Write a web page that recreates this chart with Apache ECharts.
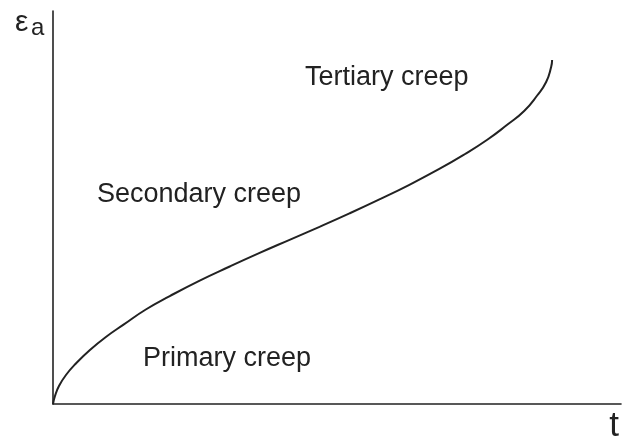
<!DOCTYPE html>
<html>
<head>
<meta charset="utf-8">
<script src="https://cdn.jsdelivr.net/npm/echarts@6/dist/echarts.min.js"></script>
<style>
  html, body { margin: 0; padding: 0; background: #fff; }
  #chart { width: 622px; height: 444px; }
</style>
</head>
<body>
<div id="chart"></div>
<script>
// creep curve: strain vs time (arbitrary units, 0..100 on both axes)
const timeVals   = [0, 0.35, 1.05, 2.28, 4.04, 6.5, 9.31, 12.48, 16.34, 20.56, 25.83, 31.11, 36.38, 41.65, 46.92, 52.2, 57.47, 62.74, 68.01, 72.41, 76.45, 79.96, 82.95, 85.24, 86.82, 87.7, 87.87];
const strainVals = [0, 2.04, 4.58, 7.38, 10.31, 13.74, 17.05, 20.25, 24.05, 27.46, 31.4, 34.99, 38.45, 41.78, 45.09, 48.5, 52.06, 55.78, 59.8, 63.49, 67.23, 71.04, 74.55, 78.5, 81.93, 85.75, 87.53];

const stageLabels = ['Tertiary creep', 'Secondary creep', 'Primary creep'];
const xName = 't';
const yName = ['ε', 'a'];

const font = 'Liberation Sans, Arial, sans-serif';
const ink = '#222';

const curve = timeVals.map((t, i) => [t, strainVals[i]]);

const chart = echarts.init(document.getElementById('chart'));

// text positions (px)
const labelPos = [[305, 64], [97, 181], [143, 345]];
const yNamePos = [[15, 8], [31, 16]];
const yNameSize = [30, 24];

const texts = stageLabels.map((txt, i) => ({
    type: 'text',
    left: labelPos[i][0],
    top: labelPos[i][1],
    style: { text: txt, font: '27px ' + font, fill: ink }
})).concat(yName.map((txt, i) => ({
    type: 'text',
    left: yNamePos[i][0],
    top: yNamePos[i][1],
    style: { text: txt, font: yNameSize[i] + 'px ' + font, fill: ink }
})));

chart.setOption({
    animation: false,
    grid: { left: 53, top: 11, right: 0, bottom: 40 },
    xAxis: {
        type: 'value', min: 0, max: 100,
        name: xName,
        nameLocation: 'end',
        nameGap: 0,
        nameTextStyle: {
            fontFamily: font, fontSize: 35, color: ink,
            align: 'right', verticalAlign: 'top', padding: [5, 2, 0, 0]
        },
        axisLine: { lineStyle: { color: ink, width: 1.6 } },
        axisTick: { show: false },
        axisLabel: { show: false },
        splitLine: { show: false }
    },
    yAxis: {
        type: 'value', min: 0, max: 100,
        axisLine: { show: true, lineStyle: { color: ink, width: 1.6 } },
        axisTick: { show: false },
        axisLabel: { show: false },
        splitLine: { show: false }
    },
    graphic: texts,
    series: [{
        type: 'line',
        data: curve,
        smooth: 0.5,
        showSymbol: false,
        lineStyle: { color: ink, width: 2 }
    }]
});
</script>
</body>
</html>
